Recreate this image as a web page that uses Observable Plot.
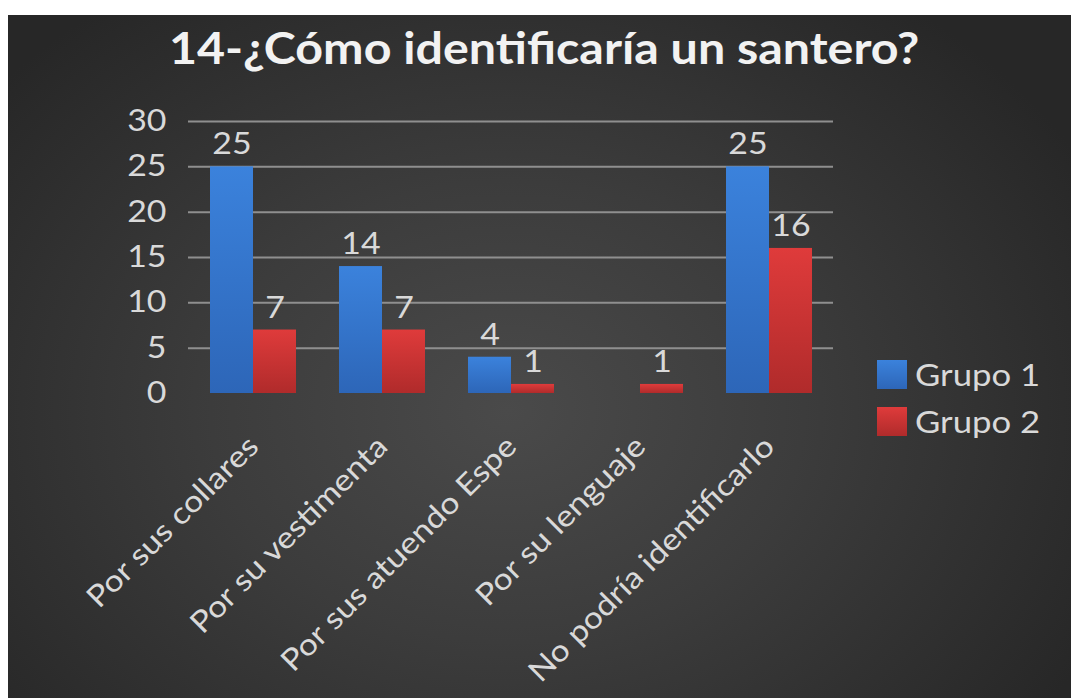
<!DOCTYPE html>
<html><head><meta charset="utf-8">
<script src="https://cdn.jsdelivr.net/npm/d3@7"></script>
<script src="https://cdn.jsdelivr.net/npm/@observablehq/plot@0.6"></script>
<style>
html,body{margin:0;padding:0;background:#fff;width:1071px;height:698px;overflow:hidden;}
#panel{position:absolute;left:8px;top:15px;width:1063px;height:683px;overflow:hidden;
  background:radial-gradient(ellipse 62% 75% at 47% 58%, #4a4a4a 0%, #3c3c3c 45%, #272727 100%);
  font-family:Lato,"Open Sans",sans-serif;}
#title{position:absolute;left:0;top:6px;width:1063px;text-align:center;color:#f2f2f2;
  font-weight:700;font-size:44px;line-height:1.2;white-space:nowrap;}
#title span{display:inline-block;margin-left:9px;transform:scaleX(1.1);transform-origin:50% 50%;}
#chart{position:absolute;left:0;top:0;}
.leg{position:absolute;left:869px;display:flex;align-items:center;color:#d9d9d9;font-size:31px;}
.leg span{display:inline-block;transform:scaleX(1.12);transform-origin:0 50%;}
.sw{width:30px;height:29px;margin-right:8px;}
</style></head>
<body>
<div id="panel">
  <div id="chart"></div>
  <div id="title"><span>14-¿Cómo identificaría un santero?</span></div>
  <div id="legend"></div>
</div>
<script>
const categories = ["Por sus collares", "Por su vestimenta", "Por sus atuendo Espe", "Por su lenguaje", "No podría identificarlo"];
const seriesNames = ["Grupo 1", "Grupo 2"];
const grupo1 = [25, 14, 4, 0, 25];
const grupo2 = [7, 7, 1, 1, 16];
const yTicks = [0, 5, 10, 15, 20, 25, 30];
const titleText = "14-¿Cómo identificaría un santero?";

const rows1 = categories.map((c, i) => ({category: c, series: seriesNames[0], value: grupo1[i]}));
const rows2 = categories.map((c, i) => ({category: c, series: seriesNames[1], value: grupo2[i]}));

const W = 1063, H = 683;
const mL = 180, mR = 238, mT = 106, mB = 305;
const step = (W - mL - mR) / categories.length;
const half = step * (2/3) / 2;

const chart = Plot.plot({
  width: W, height: H,
  marginLeft: mL, marginRight: mR, marginTop: mT, marginBottom: mB,
  style: {background: "transparent", color: "#d9d9d9", fontFamily: "Lato, 'Open Sans', sans-serif", fontSize: "29px", overflow: "visible"},
  x: {domain: categories, paddingInner: 1/3, paddingOuter: 1/6, label: null},
  y: {domain: [0, 30], label: null},
  marks: [
    Plot.gridY(yTicks.filter(d => d > 0), {stroke: "#8f8f8f", strokeOpacity: 1, strokeWidth: 2}),
    Plot.axisY(yTicks, {tickSize: 0, tickPadding: 22, fontSize: 30, fill: "#d9d9d9", label: null}),
    Plot.axisX({tickSize: 0, tickRotate: -45, tickPadding: 48, fontSize: 30, fill: "#d9d9d9", label: null}),
    Plot.barY(rows1, {x: "category", y: "value", fill: "url(#gBlue)", insetLeft: 0, insetRight: half}),
    Plot.barY(rows2, {x: "category", y: "value", fill: "url(#gRed)", insetLeft: half, insetRight: 0}),
    Plot.text(rows1.filter(d => d.value > 0), {x: "category", y: "value", text: d => String(d.value), dx: -half/2, dy: -22, fill: "#d9d9d9", fontSize: 30}),
    Plot.text(rows2.filter(d => d.value > 0), {x: "category", y: "value", text: d => String(d.value), dx: half/2, dy: -22, fill: "#d9d9d9", fontSize: 30})
  ]
});

const defs = document.createElementNS("http://www.w3.org/2000/svg", "defs");
defs.innerHTML = `
<linearGradient id="gBlue" x1="0" y1="0" x2="0" y2="1">
  <stop offset="0" stop-color="#3b82dc"/><stop offset="1" stop-color="#2d66b8"/></linearGradient>
<linearGradient id="gRed" x1="0" y1="0" x2="0" y2="1">
  <stop offset="0" stop-color="#df3b3b"/><stop offset="1" stop-color="#b02b2b"/></linearGradient>`;
chart.insertBefore(defs, chart.firstChild);

// widen glyphs horizontally (reference text is horizontally stretched)
const sx = 1.13;
chart.querySelectorAll("text").forEach(t => {
  const x = +t.getAttribute("x") || 0, y = +t.getAttribute("y") || 0;
  const tr = t.getAttribute("transform") || "";
  t.setAttribute("transform", `${tr} translate(${x},${y}) scale(${sx},1) translate(${-x},${-y})`);
});
document.getElementById("chart").appendChild(chart);

const legend = document.getElementById("legend");
const legFills = ["linear-gradient(#3b82dc,#2d66b8)", "linear-gradient(#df3b3b,#b02b2b)"];
const legTops = [340, 387];
seriesNames.forEach((s, i) => {
  const d = document.createElement("div");
  d.className = "leg";
  d.style.top = legTops[i] + "px";
  d.innerHTML = `<div class="sw" style="background:${legFills[i]}"></div><span>${s}</span>`;
  legend.appendChild(d);
});
</script>
</body></html>
